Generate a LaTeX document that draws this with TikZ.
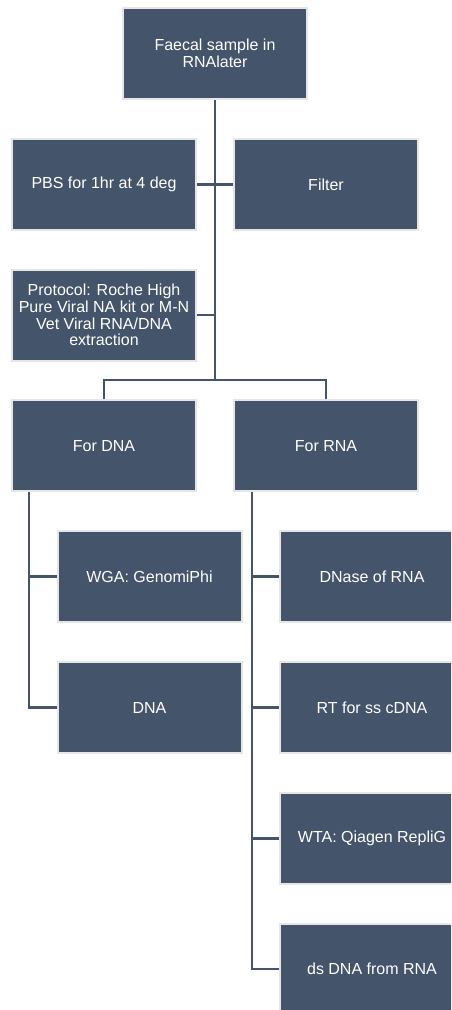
\documentclass[tikz,border=0pt]{standalone}
\usepackage{fontspec}
\setmainfont{Liberation Sans}
\definecolor{boxfill}{HTML}{44546A}
\definecolor{boxedge}{HTML}{E6E6E6}
\begin{document}
\begin{tikzpicture}[x=1pt,y=-1pt,
  stepbox/.style={draw=boxedge, line width=2pt, fill=boxfill, text=white,
    minimum width=184pt, minimum height=91pt, inner sep=0pt, align=center,
    font=\fontsize{16}{16.6}\selectfont},
  link/.style={draw=boxfill, line width=2.6pt}]
\useasboundingbox (0,0) rectangle (451,1010);
\clip (0,0) rectangle (451,1010);
\fill[white] (0,0) rectangle (451,1010);
\node[stepbox] (top) at (215,53.5) {Faecal sample in\\RNAlater};
\node[stepbox] (pbs) at (104,184.3) {PBS for 1hr at 4 deg};
\node[stepbox] (filter) at (326,184.3) {Filter};
\node[stepbox] (protocol) at (104,315.1) {Protocol: Roche High\\Pure Viral NA kit or M-N\\Vet Viral RNA/DNA\\extraction};
\node[stepbox] (fordna) at (104,445.9) {For DNA};
\node[stepbox] (forrna) at (326,445.9) {For RNA};
\node[stepbox] (wga) at (149.5,576.7) {WGA: GenomiPhi};
\node[stepbox] (dna) at (149.5,707.5) {DNA};
\node[stepbox] (dnase) at (372,576.7) {DNase of RNA};
\node[stepbox] (rt) at (372,707.5) {RT for ss cDNA};
\node[stepbox] (wta) at (372,838.3) {WTA: Qiagen RepliG};
\node[stepbox] (ds) at (372,969.1) {ds DNA from RNA};
\coordinate (br) at (215,380);
\coordinate (dv) at (29,0);
\coordinate (rv) at (252,0);
\begin{scope}[on background layer/.style={}]
\draw[link] (top.south) -- (br);
\draw[link] (pbs.east) -- (filter.west);
\draw[link] (protocol.east) -- (protocol.east -| top.south);
\draw[link] (fordna.north) |- (br) -| (forrna.north);
\draw[link] (fordna.south -| dv) |- (dna.west);
\draw[link] (dv |- wga.west) -- (wga.west);
\draw[link] (forrna.south -| rv) |- (ds.west);
\draw[link] (rv |- dnase.west) -- (dnase.west);
\draw[link] (rv |- rt.west) -- (rt.west);
\draw[link] (rv |- wta.west) -- (wta.west);
\end{scope}
\end{tikzpicture}
\end{document}
